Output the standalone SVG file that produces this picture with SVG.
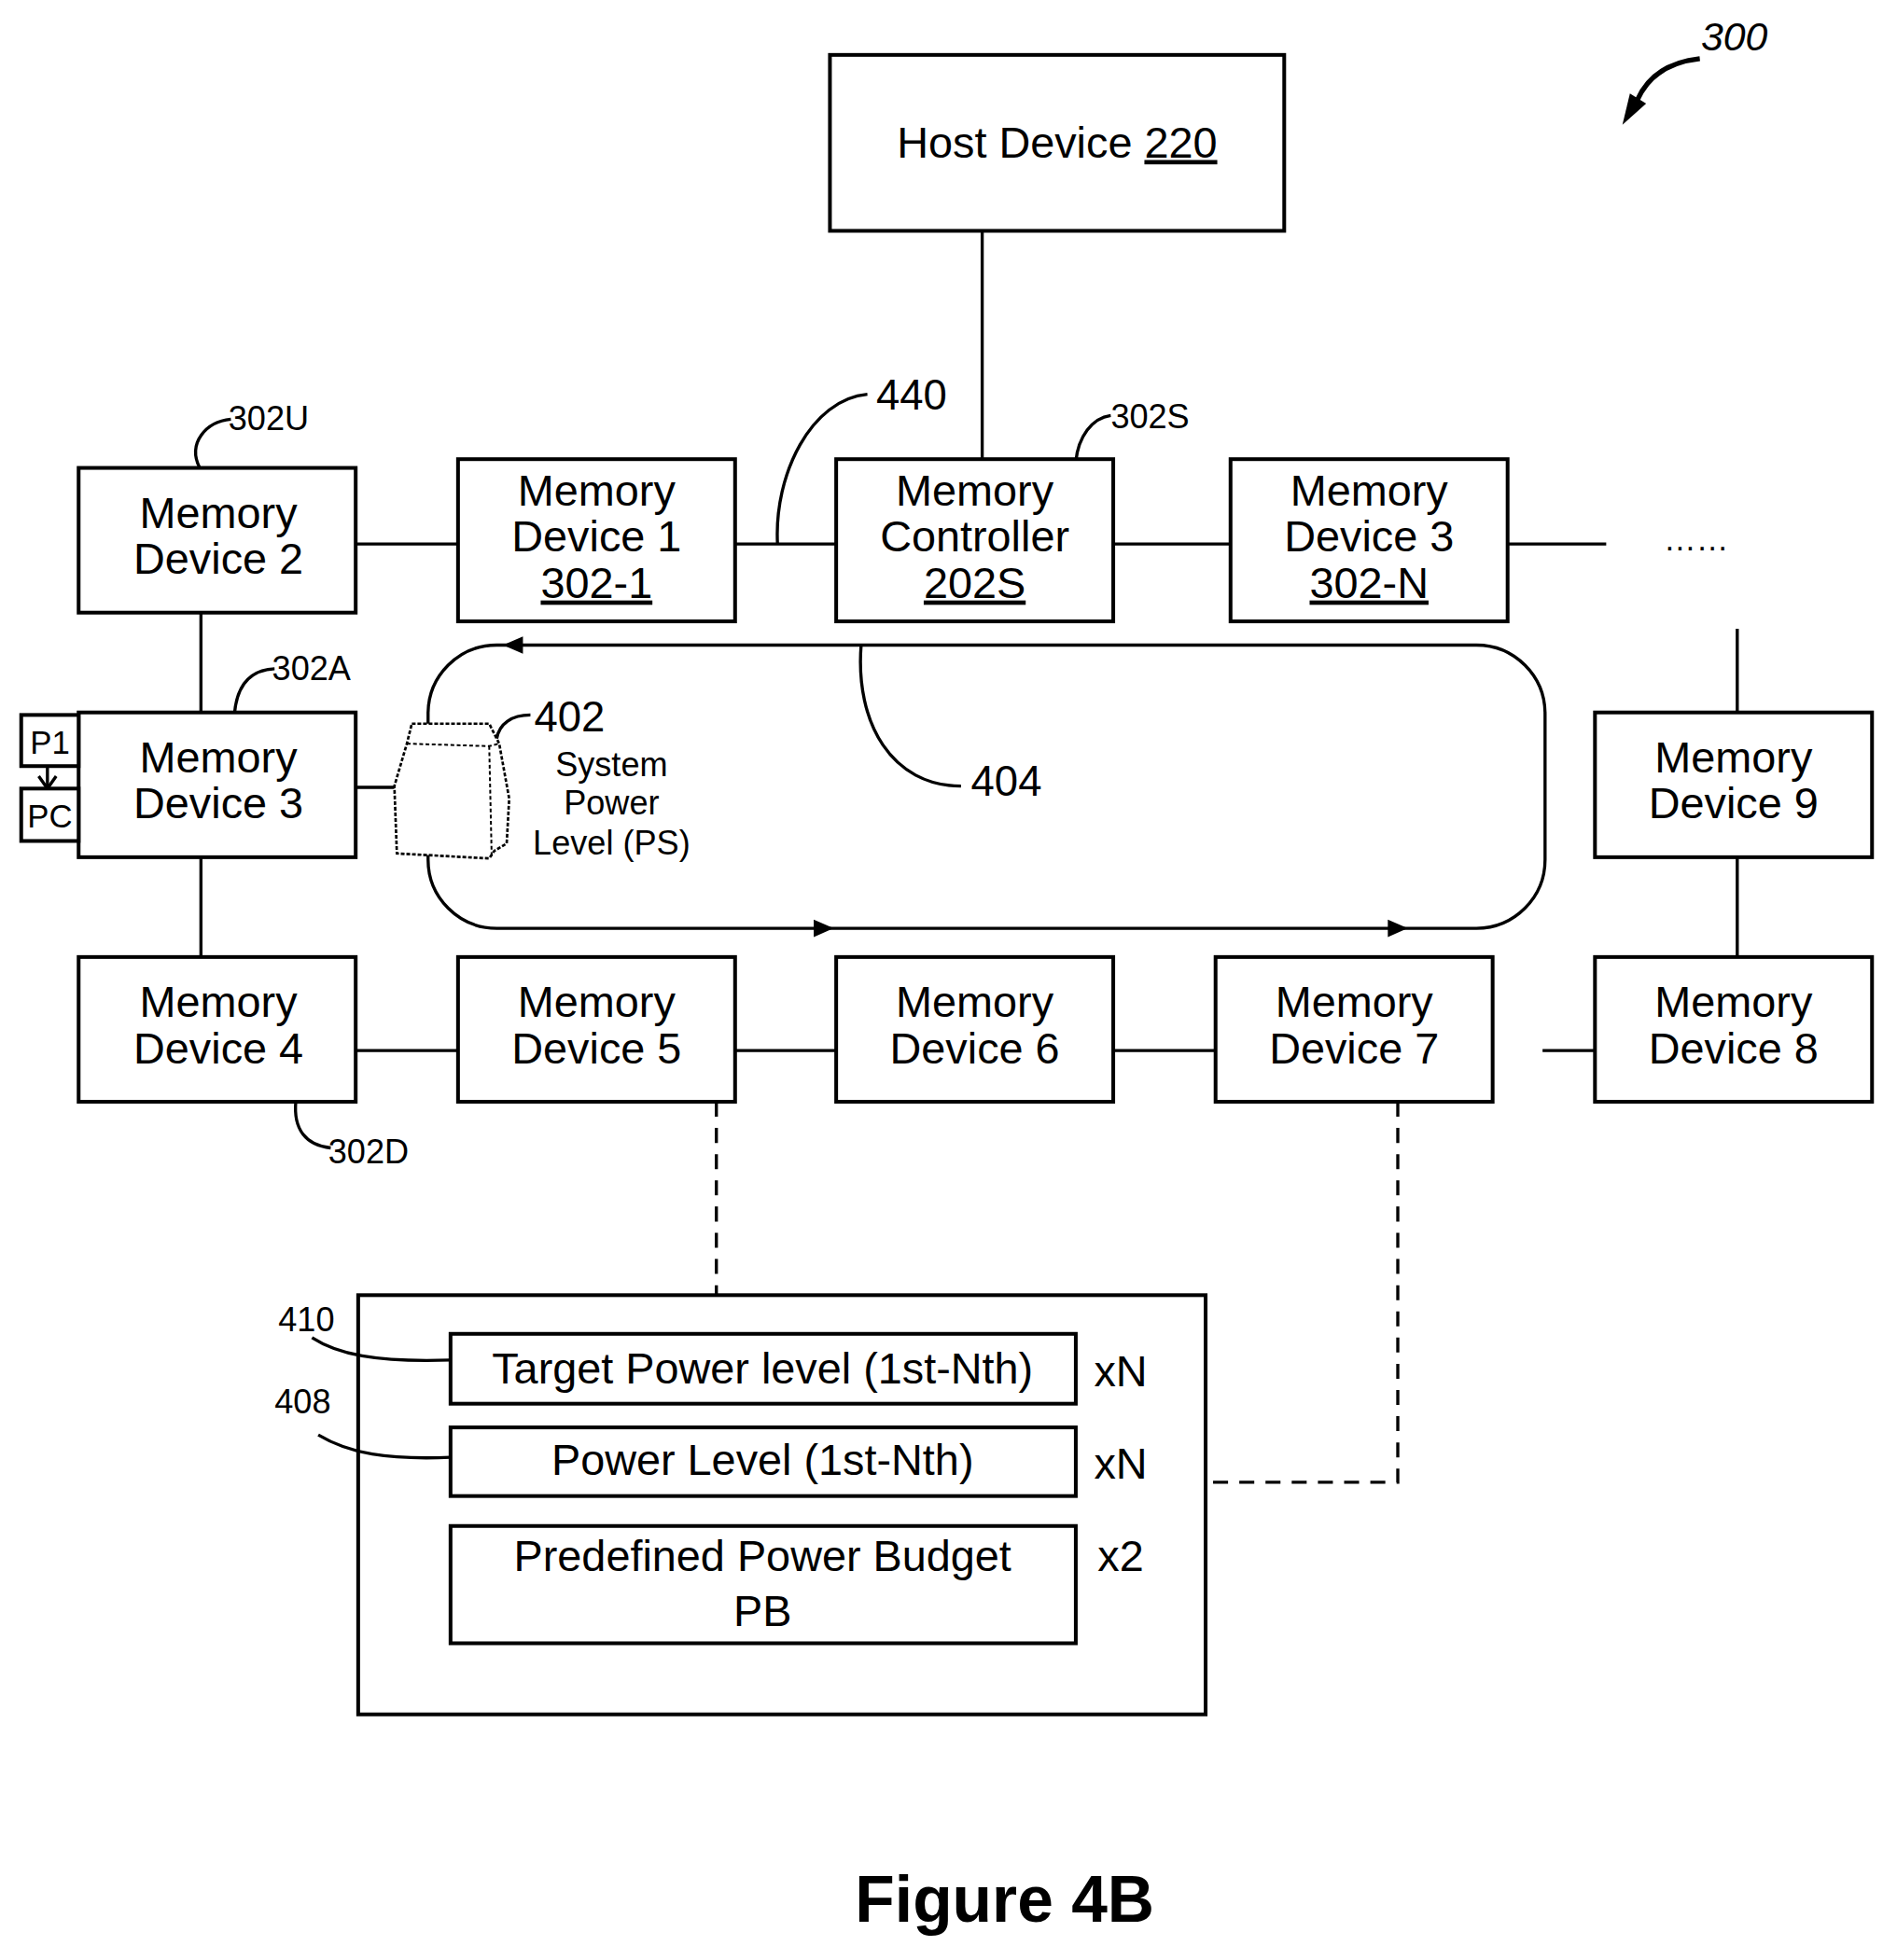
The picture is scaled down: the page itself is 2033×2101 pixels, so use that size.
<svg xmlns="http://www.w3.org/2000/svg" width="2033" height="2101" viewBox="0 0 2033 2101">
<style>
.b{fill:#fff;stroke:#000;stroke-width:3}
.l{fill:none;stroke:#000;stroke-width:2.5}
.d{fill:none;stroke:#000;stroke-width:2.5;stroke-dasharray:12,9}
text{font-family:"Liberation Sans",Arial,sans-serif;fill:#000}
.t{font-size:35px;text-anchor:middle}
.s{font-size:27px}
</style>
<rect width="2033" height="2101" fill="#fff"/>
<g transform="scale(1.3375)">
<g id="connectors">
<path class="l" d="M787,185V368M285,436H367M589,436H670M892,436H986M1208,436H1287M161,491V571M161,687V767M285,631H316M1392,504V571M1392,687V767M285,842H367M589,842H670M892,842H974M1236,842H1278M38,614V630"/>
<path d="M31,622L38,632L45,622" class="l"/>
<path class="d" d="M574,883V1038M1120,883V1188H966"/>
<path class="l" d="M398,517H1183A55,55 0 0 1 1238,572V689A55,55 0 0 1 1183,744H398A55,55 0 0 1 343,689V572A55,55 0 0 1 398,517Z"/>
<path d="M403,517l16,-7v14z"/><path d="M668,744l-16,-7v14z"/><path d="M1128,744l-16,-7v14z"/>
<path class="l" d="M623,436C620,380 650,320 695,316"/>
<path class="l" d="M862,370C864,350 875,335 890,333"/>
<path class="l" d="M160,375C150,355 165,338 185,336"/>
<path class="l" d="M188,571C190,550 200,537 220,536"/>
<path class="l" d="M237,883C235,905 245,918 265,920"/>
<path class="l" d="M398,592C400,580 410,573 425,573"/>
<path class="l" d="M690,517C685,580 715,630 770,630"/>
<path d="M1362,47C1335,50 1320,62 1312,80" fill="none" stroke="#000" stroke-width="4"/>
<path d="M1300,100L1306,75L1319,83z"/>
</g>
<g id="host"><rect class="b" x="665" y="44" width="364" height="141"/><text class="t" x="847" y="126">Host Device <tspan text-decoration="underline">220</tspan></text></g>
<g id="md2"><rect class="b" x="63" y="375" width="222" height="116"/><text class="t" x="175" y="423">Memory</text><text class="t" x="175" y="460">Device 2</text></g>
<g id="md1"><rect class="b" x="367" y="368" width="222" height="130"/><text class="t" x="478" y="405">Memory</text><text class="t" x="478" y="442">Device 1</text><text class="t" x="478" y="479" text-decoration="underline">302-1</text></g>
<g id="mc"><rect class="b" x="670" y="368" width="222" height="130"/><text class="t" x="781" y="405">Memory</text><text class="t" x="781" y="442">Controller</text><text class="t" x="781" y="479" text-decoration="underline">202S</text></g>
<g id="md3n"><rect class="b" x="986" y="368" width="222" height="130"/><text class="t" x="1097" y="405">Memory</text><text class="t" x="1097" y="442">Device 3</text><text class="t" x="1097" y="479" text-decoration="underline">302-N</text></g>
<text x="1333" y="441" style="font-size:26px">……</text>
<g id="md3"><rect class="b" x="63" y="571" width="222" height="116"/><text class="t" x="175" y="619">Memory</text><text class="t" x="175" y="656">Device 3</text></g>
<g id="p1"><rect class="b" x="17" y="573" width="46" height="41"/><text x="40" y="604" style="font-size:26px;text-anchor:middle">P1</text></g>
<g id="pc"><rect class="b" x="17" y="632" width="46" height="42"/><text x="40" y="663" style="font-size:26px;text-anchor:middle">PC</text></g>
<g id="bag">
<path d="M330,580L392,580L400,596L408,640L406,676L396,682L392,688L318,684L316,630L326,596Z" fill="#fff" stroke="#000" stroke-width="2" stroke-dasharray="3,1.5"/>
<path d="M326,596L392,598L400,596M392,598L394,688" fill="none" stroke="#000" stroke-width="1.5" stroke-dasharray="3,2"/>
</g>
<text x="428" y="586" style="font-size:34px">402</text>
<g class="s" style="text-anchor:middle"><text x="490" y="622">System</text><text x="490" y="653">Power</text><text x="490" y="685">Level (PS)</text></g>
<g id="md9"><rect class="b" x="1278" y="571" width="222" height="116"/><text class="t" x="1389" y="619">Memory</text><text class="t" x="1389" y="656">Device 9</text></g>
<g id="md4"><rect class="b" x="63" y="767" width="222" height="116"/><text class="t" x="175" y="815">Memory</text><text class="t" x="175" y="852">Device 4</text></g>
<g id="md5"><rect class="b" x="367" y="767" width="222" height="116"/><text class="t" x="478" y="815">Memory</text><text class="t" x="478" y="852">Device 5</text></g>
<g id="md6"><rect class="b" x="670" y="767" width="222" height="116"/><text class="t" x="781" y="815">Memory</text><text class="t" x="781" y="852">Device 6</text></g>
<g id="md7"><rect class="b" x="974" y="767" width="222" height="116"/><text class="t" x="1085" y="815">Memory</text><text class="t" x="1085" y="852">Device 7</text></g>
<g id="md8"><rect class="b" x="1278" y="767" width="222" height="116"/><text class="t" x="1389" y="815">Memory</text><text class="t" x="1389" y="852">Device 8</text></g>
<text x="702" y="328" style="font-size:34px">440</text>
<text x="890" y="343" style="font-size:27px">302S</text>
<text x="183" y="345" style="font-size:27px">302U</text>
<text x="218" y="545" style="font-size:27px">302A</text>
<text x="263" y="932" style="font-size:27px">302D</text>
<text x="778" y="638" style="font-size:34px">404</text>
<g id="table">
<rect class="b" x="287" y="1038" width="679" height="336"/>
<rect class="b" x="361" y="1069" width="501" height="56"/><text class="t" x="611" y="1109">Target Power level (1st-Nth)</text>
<rect class="b" x="361" y="1144" width="501" height="55"/><text class="t" x="611" y="1182">Power Level (1st-Nth)</text>
<rect class="b" x="361" y="1223" width="501" height="94"/><text class="t" x="611" y="1259">Predefined Power Budget</text><text class="t" x="611" y="1303">PB</text>
<text class="t" x="898" y="1111">xN</text><text class="t" x="898" y="1185">xN</text><text class="t" x="898" y="1259">x2</text>
</g>
<g id="leaders">
<path class="l" d="M250,1072C270,1085 300,1092 361,1090"/>
<path class="l" d="M255,1150C280,1165 310,1170 361,1168"/>
</g>
<text x="223" y="1067" style="font-size:27px">410</text>
<text x="220" y="1133" style="font-size:27px">408</text>
<text x="1363" y="40" style="font-size:32px;font-style:italic">300</text>
<text x="805" y="1540" style="font-size:52px;font-weight:bold;text-anchor:middle">Figure 4B</text>
</g>
</svg>
